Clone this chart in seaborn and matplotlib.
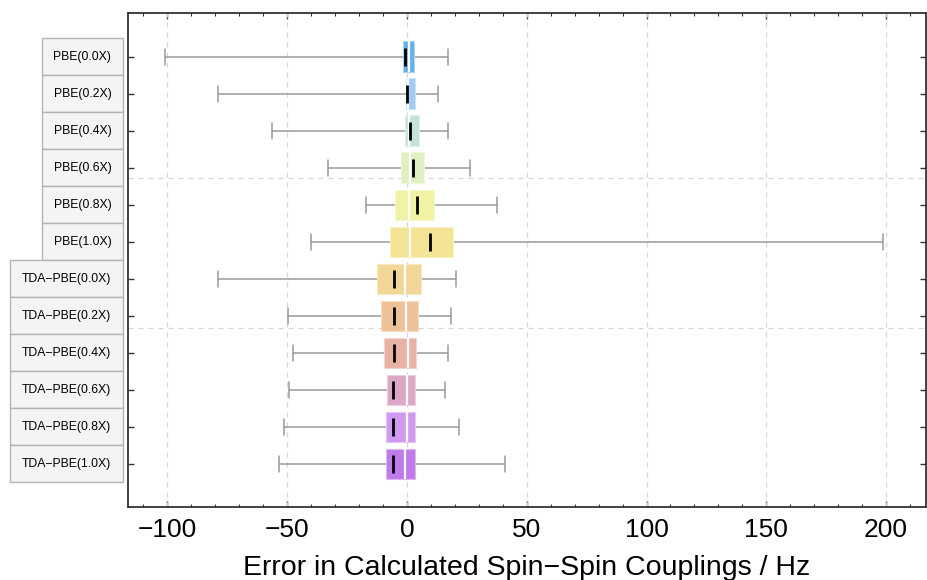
import matplotlib
matplotlib.use("Agg")
import matplotlib.pyplot as plt
import matplotlib.transforms as mtransforms
from matplotlib.patches import Rectangle
from matplotlib.colors import to_rgb
from matplotlib.ticker import MultipleLocator
import numpy as np
import seaborn as sns

# Methods (top to bottom)
methods = ["PBE(0.0X)", "PBE(0.2X)", "PBE(0.4X)", "PBE(0.6X)", "PBE(0.8X)", "PBE(1.0X)",
           "TDA\u2212PBE(0.0X)", "TDA\u2212PBE(0.2X)", "TDA\u2212PBE(0.4X)",
           "TDA\u2212PBE(0.6X)", "TDA\u2212PBE(0.8X)", "TDA\u2212PBE(1.0X)"]

# Error statistics (Hz)
whisker_low = [-101.0, -79.1, -56.2, -32.8, -17.3, -40.2, -79.0, -49.8, -47.6, -49.3, -51.4, -53.5]
quart_low = [-1.7, -0.5, -1.0, -2.3, -5.1, -6.9, -12.5, -10.9, -9.7, -8.5, -8.8, -8.6]
medians = [-0.7, 0.15, 1.1, 2.4, 4.2, 9.6, -5.6, -5.6, -5.6, -5.7, -5.8, -6.0]
means = [0.9, 0.6, 0.8, 1.1, 0.7, 1.1, -0.7, -0.5, 0.4, 0.0, 0.0, -0.7]
quart_high = [2.9, 3.3, 5.2, 7.1, 11.4, 19.0, 5.7, 4.8, 3.9, 3.5, 3.3, 3.2]
whisker_high = [17.3, 12.8, 17.1, 26.1, 37.6, 198.6, 20.3, 18.5, 17.1, 15.9, 21.7, 41.0]

box_colors = ["#68b0e8", "#a0ccf2", "#c6e2da", "#e2efc2", "#f2f2a4", "#f4e496",
              "#f2d696", "#eec298", "#e8b2a4", "#dca8c6", "#d09af0", "#c07aea"]

x_ticks = [-100, -50, 0, 50, 100, 150, 200]
x_label = "Error in Calculated Spin\u2212Spin Couplings / Hz"

sns.set_theme(style="white")
plt.rcParams["font.family"] = ["Liberation Sans", "DejaVu Sans"]

fig = plt.figure(figsize=(9.27, 5.80), dpi=100)
ax = fig.add_axes([0.138, 0.126, 0.861, 0.852])

positions = np.arange(len(methods))

stats = []
for i, name in enumerate(methods):
    stats.append(dict(label=name, whislo=whisker_low[i], q1=quart_low[i], med=medians[i],
                      mean=means[i], q3=quart_high[i], whishi=whisker_high[i], fliers=[]))

parts = ax.bxp(stats, positions=positions, widths=0.83, capwidths=0.42,
               orientation="horizontal", patch_artist=True, showmeans=True,
               meanline=True, showfliers=False, manage_ticks=False,
               whiskerprops=dict(color="#9a9a9a", linewidth=1.1),
               capprops=dict(color="#9a9a9a", linewidth=1.1),
               medianprops=dict(visible=False),
               meanprops=dict(color="white", linestyle="-", linewidth=1.6))

for box, col in zip(parts["boxes"], box_colors):
    rgb = np.array(to_rgb(col))
    box.set_facecolor(rgb)
    box.set_edgecolor(0.55 * rgb + 0.45)
    box.set_linewidth(0.8)
    box.set_zorder(3)
for ln in parts["whiskers"] + parts["caps"]:
    ln.set_zorder(2)
for ln in parts["means"]:
    ln.set_zorder(4)

# medians as short black bars
sns.scatterplot(x=medians, y=positions, marker="|", s=160, linewidth=2.0,
                color="black", ax=ax, zorder=5, legend=False)

ax.set_xlim(-116.5, 216.7)
ax.set_ylim(len(methods) - 1 + 1.16, -1.19)

# grid
for xv in x_ticks:
    ax.axvline(xv, color="#d6d6d6", linestyle=(0, (4, 4)), linewidth=0.9, zorder=1)
for yv in [3.27, 7.32]:
    ax.axhline(yv, color="#d6d6d6", linestyle=(0, (4, 4)), linewidth=0.9, zorder=1)

# ticks
ax.set_xticks(x_ticks)
ax.xaxis.set_minor_locator(MultipleLocator(10))
ax.set_yticks(positions)
ax.set_yticklabels([])
ax.tick_params(axis="both", which="both", direction="in", top=True, right=True,
               bottom=True, left=True, color="#333333")
ax.tick_params(axis="x", which="major", length=4.5, width=1.0, labelsize=19, pad=8,
               labelcolor="black")
ax.tick_params(axis="x", which="minor", length=2.5, width=0.8)
ax.tick_params(axis="y", which="major", length=4.5, width=1.0)

for sp in ax.spines.values():
    sp.set_color("#333333")
    sp.set_linewidth(1.3)

ax.set_xlabel(x_label, fontsize=20.5, labelpad=9.5, color="black")
ax.set_ylabel("")

# framed method labels on the left
trans = mtransforms.blended_transform_factory(ax.transAxes, ax.transData)
for i, name in enumerate(methods):
    x0 = -0.1478 if name.startswith("TDA") else -0.1078
    x1 = -0.0063
    ax.add_patch(Rectangle((x0, i - 0.5), x1 - x0, 1.0, transform=trans,
                           facecolor="#f4f4f4", edgecolor="#b4b4b4", linewidth=1.0,
                           clip_on=False, zorder=6))
    ax.text((x0 + x1) / 2, i, name, transform=trans, ha="center", va="center",
            fontsize=8.8, color="black", clip_on=False, zorder=7)

fig.savefig("out.png", dpi=100)
